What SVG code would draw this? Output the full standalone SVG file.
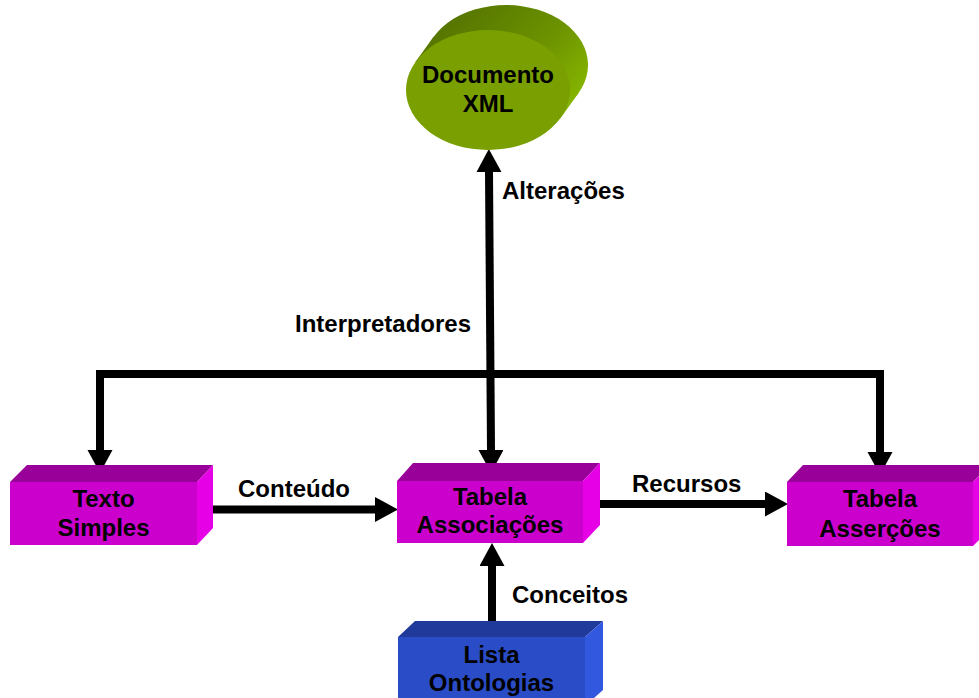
<svg xmlns="http://www.w3.org/2000/svg" width="979" height="698" viewBox="0 0 979 698">
  <style>
    .lbl { font-family: "Liberation Sans", Arial, sans-serif; font-weight: bold; font-size: 24px; fill: #000; }
    .ntxt { font-family: "Liberation Sans", Arial, sans-serif; font-weight: bold; font-size: 24px; fill: #000; text-anchor: middle; }
    .mfront { fill: #CC00CC; }
    .mtop { fill: #990099; }
    .mside { fill: #E600E6; }
    .bfront { fill: #2A4CC6; }
    .btop { fill: #1F3A9A; }
    .bside { fill: #3358E0; }
    .conn { fill: none; stroke: #000; stroke-width: 8; stroke-linejoin: miter; }
  </style>
  <defs>
    <marker id="ah" markerUnits="userSpaceOnUse" markerWidth="24" markerHeight="26" refX="0" refY="12.5" orient="auto-start-reverse">
      <path d="M0,0 L23,12.5 L0,25 z" fill="#000"/>
    </marker>
    <linearGradient id="ext" gradientUnits="userSpaceOnUse" x1="470" y1="5" x2="585" y2="115">
      <stop offset="0" stop-color="#577700"/>
      <stop offset="0.5" stop-color="#6C9200"/>
      <stop offset="1" stop-color="#8CBE00"/>
    </linearGradient>
  </defs>
  <rect width="979" height="698" fill="#fff"/>

  <g id="connectors">
    <path class="conn" d="M489,172 L491,450" marker-start="url(#ah)" marker-end="url(#ah)"/>
    <path class="conn" d="M100,450 V374 H880 V452" marker-start="url(#ah)" marker-end="url(#ah)"/>
    <path class="conn" d="M203,509.5 H375" marker-end="url(#ah)"/>
    <path class="conn" d="M593,504 H765" marker-end="url(#ah)"/>
    <path class="conn" d="M492,630 V566" marker-end="url(#ah)"/>
    <text class="lbl" x="502" y="199">Alterações</text>
    <text class="lbl" x="295" y="332">Interpretadores</text>
    <text class="lbl" x="238" y="497">Conteúdo</text>
    <text class="lbl" x="632" y="492">Recursos</text>
    <text class="lbl" x="512" y="603">Conceitos</text>
  </g>

  <g id="documento-xml">
    <ellipse cx="506" cy="65" rx="82" ry="60" fill="url(#ext)"/>
    <polygon points="415.4,62 433.4,37 578.6,93 560.6,118" fill="url(#ext)"/>
    <ellipse cx="488" cy="90" rx="82" ry="60" fill="#7A9F00"/>
    <text class="ntxt" x="488" y="83">Documento</text>
    <text class="ntxt" x="488" y="112">XML</text>
  </g>

  <g id="texto-simples">
    <polygon class="mtop" points="10,482 27,465 213,465 197,482"/>
    <polygon class="mside" points="197,482 213,465 213,528 197,545"/>
    <rect class="mfront" x="10" y="482" width="187" height="63"/>
    <text class="ntxt" x="103.5" y="507">Texto</text>
    <text class="ntxt" x="103.5" y="536">Simples</text>
  </g>

  <g id="tabela-associacoes">
    <polygon class="mtop" points="397,481 413,463 600,463 583,481"/>
    <polygon class="mside" points="583,481 600,463 600,525 583,543"/>
    <rect class="mfront" x="397" y="481" width="186" height="62"/>
    <text class="ntxt" x="490" y="505">Tabela</text>
    <text class="ntxt" x="490" y="533">Associações</text>
  </g>

  <g id="tabela-assercoes">
    <polygon class="mtop" points="787,482 803,465 990,465 973,482"/>
    <polygon class="mside" points="973,482 990,465 990,529 973,546"/>
    <rect class="mfront" x="787" y="482" width="186" height="64"/>
    <text class="ntxt" x="880" y="507">Tabela</text>
    <text class="ntxt" x="880" y="537">Asserções</text>
  </g>

  <g id="lista-ontologias">
    <polygon class="btop" points="398,637 415,621 603,621 585,637"/>
    <polygon class="bside" points="585,637 603,621 603,690 585,706"/>
    <rect class="bfront" x="398" y="637" width="187" height="70"/>
    <text class="ntxt" x="491.5" y="663">Lista</text>
    <text class="ntxt" x="491.5" y="691">Ontologias</text>
  </g>
</svg>
